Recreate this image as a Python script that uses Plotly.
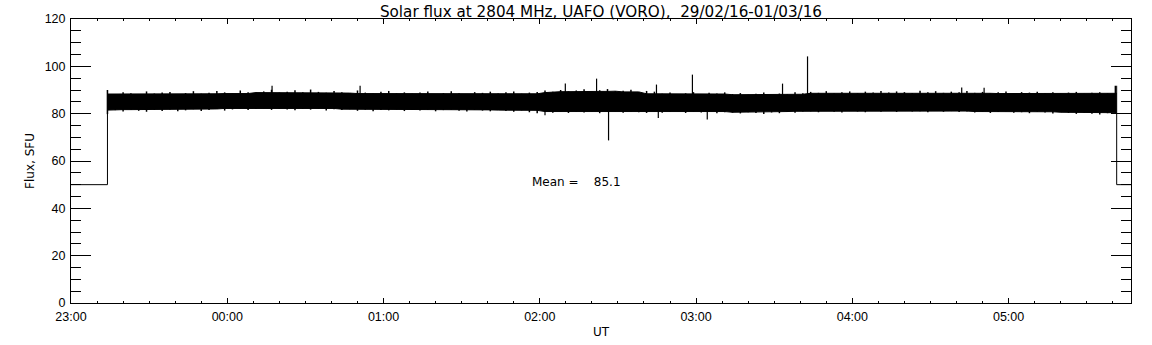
import pandas as pd
import plotly.graph_objects as go

# ---------------- data ----------------
base_time = pd.Timestamp("2016-02-29 23:00")
start_min = 14          # data start, minutes after 23:00
step_min = 3            # sampling of the envelope, minutes
end_min = 401.5         # data end, minutes after 23:00
axis_end_min = 407      # right edge of the axis
fill_value = 50         # value plotted outside the observation window

# per-sample maximum / minimum of the noisy flux (SFU)
band_hi = [
    90.0, 88.3, 89.1, 88.6, 88.2, 89.4, 88.5, 88.9, 89.2, 88.1,
    88.7, 89.5, 88.4, 88.8, 89.6, 89.0, 88.5, 89.8, 89.1, 88.9,
    89.4, 90.1, 88.9, 89.3, 89.9, 89.0, 90.2, 89.2, 88.8, 89.6,
    89.1, 88.7, 89.8, 88.9, 88.5, 89.3, 89.6, 88.6, 89.0, 88.4,
    88.9, 89.4, 88.3, 88.7, 89.5, 88.6, 88.2, 89.1, 88.8, 89.3,
    88.5, 89.0, 89.4, 88.4, 88.9, 89.2, 89.8, 89.3, 90.0, 89.5,
    89.8, 90.3, 89.4, 89.9, 90.4, 89.5, 89.7, 90.1, 89.2, 89.6,
    89.3, 88.4, 88.9, 88.1, 88.6, 89.1, 88.2, 88.8, 88.5, 89.0,
    88.3, 88.7, 88.0, 88.4, 88.9, 87.9, 88.5, 88.2, 89.0, 88.6,
    89.2, 88.8, 89.5, 88.6, 89.0, 89.4, 88.7, 89.3, 88.9, 89.6,
    88.9, 89.4, 89.1, 88.7, 89.7, 89.0, 89.5, 88.8, 89.3, 89.0,
    89.6, 88.8, 89.2, 88.6, 89.0, 89.4, 88.5, 89.1, 88.9, 89.3,
    88.7, 89.1, 88.5, 88.9, 89.2, 88.4, 88.8, 89.0, 88.6, 91.8,
]
band_lo = [
    79.8, 81.5, 80.9, 81.7, 81.2, 80.8, 81.6, 81.1, 81.8, 81.0,
    81.4, 81.9, 81.1, 81.6, 82.0, 81.3, 81.8, 82.2, 81.5, 82.0,
    82.3, 81.6, 82.1, 81.8, 81.4, 82.0, 81.7, 82.2, 81.3, 81.9,
    81.5, 81.9, 81.2, 81.7, 81.0, 81.6, 81.4, 81.8, 81.1, 81.5,
    81.3, 81.7, 81.0, 81.5, 81.8, 81.2, 80.9, 81.6, 81.3, 81.0,
    81.5, 81.1, 80.8, 81.4, 80.6, 80.2, 80.9, 80.4, 80.7, 80.3,
    80.8, 80.5, 80.9, 80.2, 80.7, 81.0, 80.4, 80.8, 80.6, 80.3,
    80.9, 80.4, 80.7, 81.0, 80.3, 80.8, 80.5, 80.9, 80.2, 80.6,
    80.4, 80.1, 80.6, 80.3, 79.9, 80.5, 80.2, 80.7, 80.4, 80.9,
    81.0, 80.6, 81.2, 80.8, 80.5, 81.1, 80.9, 80.6, 81.2, 80.8,
    81.1, 80.7, 81.3, 80.9, 81.0, 80.6, 81.2, 80.8, 81.1, 80.7,
    80.9, 80.5, 80.8, 80.3, 80.7, 81.0, 80.4, 80.6, 80.2, 80.8,
    80.5, 80.1, 80.6, 80.3, 79.9, 80.4, 80.0, 79.7, 80.2, 80.4,
]

# isolated spikes: minutes after 23:00 and peak value
spike_up_min = [77.2, 111.0, 189.8, 201.8, 224.8, 238.6, 273.2, 282.8, 342.0, 350.6]
spike_up_val = [91.8, 91.8, 92.7, 94.8, 92.3, 96.5, 92.7, 104.2, 91.1, 91.0]
spike_dn_min = [182.0, 206.4, 225.5, 244.3]
spike_dn_val = [79.3, 68.7, 78.2, 77.5]
band_mid = 85.1

mean_value = 85.1
mean_label_min = 176.3
mean_label_y = 51

hour_labels = ["23:00", "00:00", "01:00", "02:00", "03:00", "04:00", "05:00"]

title_text = "Solar flux at 2804 MHz, UAFO (VORO),\u00a0\u00a029/02/16-01/03/16"


def tm(m):
    return base_time + pd.to_timedelta(m, unit="m")


n = len(band_hi)
band_t = [tm(start_min + step_min * i) for i in range(n)]

# solid core of the band: running min of the maxima / max of the minima
hi_s = pd.Series(band_hi)
lo_s = pd.Series(band_lo)
core_hi = hi_s.rolling(5, center=True, min_periods=1).min().tolist()
core_lo = lo_s.rolling(5, center=True, min_periods=1).max().tolist()

band_t_ext = band_t + [tm(end_min)]
core_hi_ext = core_hi + [core_hi[-1]]
core_lo_ext = core_lo + [core_lo[-1]]

fig = go.Figure()

# solid core
fig.add_trace(go.Scatter(x=band_t_ext, y=core_lo_ext, mode="lines",
                         line=dict(color="black", width=1),
                         hoverinfo="skip", showlegend=False))
fig.add_trace(go.Scatter(x=band_t_ext, y=core_hi_ext, mode="lines",
                         line=dict(color="black", width=1),
                         fill="tonexty", fillcolor="black",
                         hoverinfo="skip", showlegend=False))

# per-sample excursions (vertical whiskers from min to max)
wx, wy = [], []
for t, lo, hi in zip(band_t, band_lo, band_hi):
    wx += [t, t, None]
    wy += [lo, hi, None]
fig.add_trace(go.Scatter(x=wx, y=wy, mode="lines",
                         line=dict(color="black", width=1.5),
                         hoverinfo="skip", showlegend=False))

# step in/out of the observation window
fig.add_trace(go.Scatter(
    x=[tm(0), tm(start_min), tm(start_min), None,
       tm(end_min), tm(end_min), tm(axis_end_min)],
    y=[fill_value, fill_value, band_hi[0], None,
       band_hi[-1], fill_value, fill_value],
    mode="lines", line=dict(color="black", width=1),
    hoverinfo="skip", showlegend=False))

# isolated spikes
sx, sy = [], []
for m, v in zip(spike_up_min + spike_dn_min, spike_up_val + spike_dn_val):
    sx += [tm(m), tm(m), None]
    sy += [band_mid, v, None]
fig.add_trace(go.Scatter(x=sx, y=sy, mode="lines",
                         line=dict(color="black", width=1.2),
                         hoverinfo="skip", showlegend=False))

FONT = "DejaVu Sans"
TICKFONT = "Liberation Sans"

fig.add_annotation(
    x=tm(mean_label_min), y=mean_label_y, xref="x", yref="y",
    text="Mean =\u00a0\u00a0\u00a0\u00a0" + f"{mean_value:.1f}",
    showarrow=False, xanchor="left", yanchor="middle",
    font=dict(family=FONT, size=12, color="black"))

tickvals = [tm(60 * i) for i in range(len(hour_labels))]

fig.update_layout(
    width=1152, height=345,
    margin=dict(l=71, r=21, t=19, b=42, autoexpand=False),
    paper_bgcolor="white", plot_bgcolor="white",
    font=dict(family=FONT, size=12, color="black"),
    title=dict(text=title_text, x=0.5217, xanchor="center",
               y=0.967, yanchor="middle",
               font=dict(family=FONT, size=15.2, color="black")),
    showlegend=False,
)

fig.update_xaxes(
    type="date",
    range=[tm(0), tm(axis_end_min)],
    tickmode="array", tickvals=tickvals, ticktext=hour_labels,
    ticks="inside", ticklen=5, tickwidth=1, tickcolor="black",
    minor=dict(dtick=600000, tick0=tm(0), ticks="inside", ticklen=2,
               tickcolor="black", tickwidth=1, showgrid=False),
    showline=True, linecolor="black", linewidth=1, mirror="ticks",
    showgrid=False, zeroline=False, automargin=False,
    ticklabelstandoff=2,
    title=dict(text="UT", standoff=4, font=dict(family=FONT, size=12)),
    tickfont=dict(family=TICKFONT, size=12.5),
)

fig.update_yaxes(
    range=[0, 120], tickmode="linear", tick0=0, dtick=20,
    ticks="inside", ticklen=20, tickwidth=1, tickcolor="black",
    minor=dict(dtick=5, ticks="inside", ticklen=10, tickcolor="black",
               tickwidth=1, showgrid=False),
    showline=True, linecolor="black", linewidth=1, mirror="ticks",
    showgrid=False, zeroline=False, automargin=False,
    ticklabelstandoff=2,
    title=dict(text="Flux, SFU", standoff=7, font=dict(family=FONT, size=12)),
    tickfont=dict(family=TICKFONT, size=12.5),
)

# let the figure fill the window edge to edge (no default page margin)
fig.write_html("out.html",
               config={"displayModeBar": False},
               post_script="document.body.style.margin='0';")
